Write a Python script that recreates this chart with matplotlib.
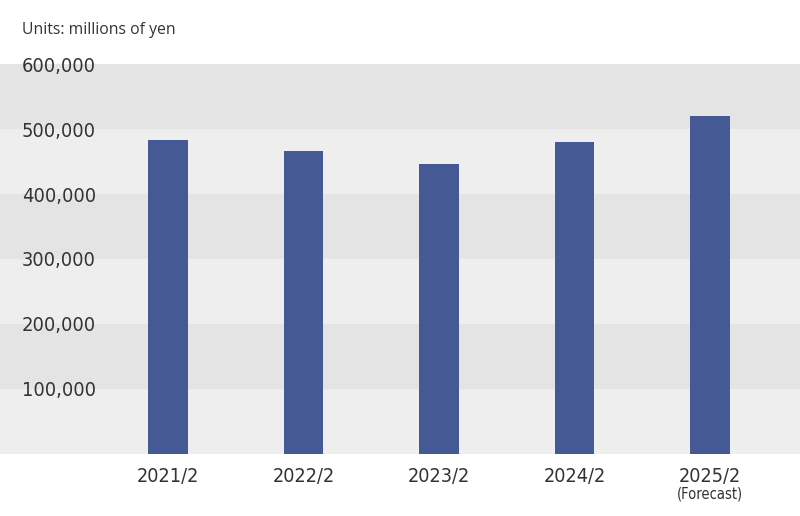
import matplotlib.pyplot as plt
from matplotlib.ticker import FuncFormatter
import matplotlib.transforms as mtransforms

# Data (millions of yen)
years = ['2021/2', '2022/2', '2023/2', '2024/2', '2025/2']
sales = [483300, 466300, 446300, 479700, 520300]
forecast_note = '(Forecast)'
y_ticks = [100000, 200000, 300000, 400000, 500000, 600000]

bar_color = '#455995'
text_color = '#333333'
band_dark = '#e4e4e4'
band_light = '#eeeeee'

plt.rcParams['font.family'] = ['DejaVu Sans']
plt.rcParams['font.stretch'] = 'condensed'

fig = plt.figure(figsize=(8, 5.16), dpi=100)
ax = fig.add_axes([0, 1 - 453.5 / 516, 1, (453.5 - 64.3) / 516])

# Alternating background bands
for i in range(6):
    lo = i * 100000
    color = band_dark if i % 2 == 1 else band_light
    ax.axhspan(lo, lo + 100000, color=color, zorder=0, lw=0)

x = list(range(len(years)))
ax.bar(x, sales, width=0.295, color=bar_color, zorder=2)

ax.set_ylim(0, 600000)
ax.set_xlim(-168 / 135.5, (800 - 168) / 135.5)

ax.set_yticks(y_ticks)
ax.yaxis.set_major_formatter(FuncFormatter(lambda v, p: f'{int(v):,}'))
ax.tick_params(axis='y', length=0, pad=-96 * 0.72, labelsize=14.4, labelcolor=text_color)

ax.set_xticks(x)
ax.set_xticklabels(years)
ax.tick_params(axis='x', length=0, pad=9.5, labelsize=14.2, labelcolor=text_color)

for s in ax.spines.values():
    s.set_visible(False)

# Forecast note below the last label
trans = mtransforms.blended_transform_factory(ax.transData, fig.transFigure)
ax.text(x[-1], 1 - 494 / 516, forecast_note, transform=trans, ha='center', va='center',
        fontsize=10.5, color=text_color)

fig.text(22 / 800, 1 - 30 / 516, 'Units: millions of yen', ha='left', va='center',
         fontsize=11.3, color=text_color, family=['Open Sans', 'DejaVu Sans'],
         stretch='normal')

fig.savefig('out.png', dpi=100)
